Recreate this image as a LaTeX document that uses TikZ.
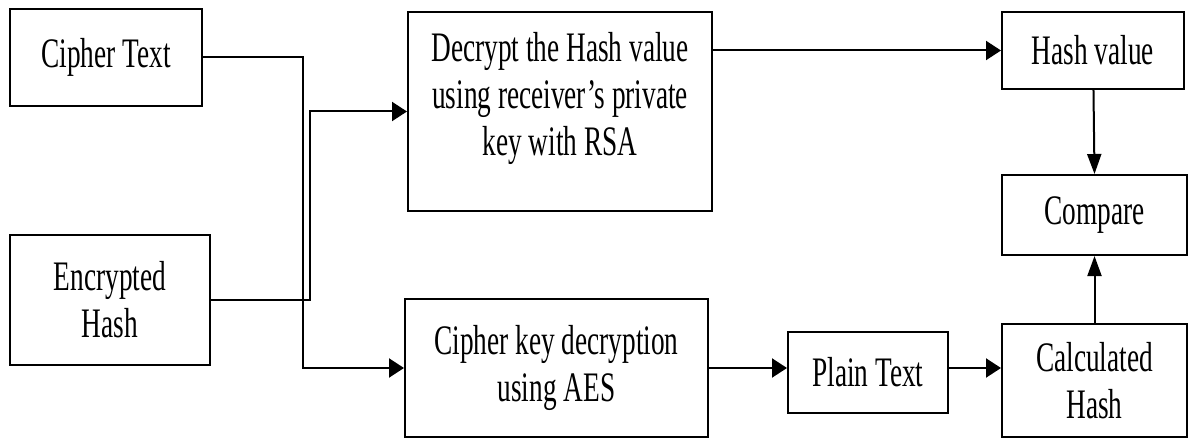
\documentclass[tikz,border=0pt]{standalone}
\usepackage{fontspec}
\setmainfont{Liberation Serif}[FakeStretch=0.65]
\usetikzlibrary{arrows.meta}
\begin{document}
\begin{tikzpicture}
  [x=1pt,y=-1pt,line width=2pt,
   every node/.style={draw,rectangle,align=center,inner sep=0pt,
     font=\fontsize{42}{47}\selectfont},
   harrow/.style={-{Triangle[length=15pt,width=19pt]}},
   varrow/.style={-{Triangle[length=20pt,width=14pt]}}]
\useasboundingbox (0,0) rectangle (1189,441);
\node (ct)[minimum width=192,minimum height=97] at (106,57.5) {Cipher Text};
  \node (eh)[minimum width=200,minimum height=130] at (110,300) {Encrypted\\Hash};
  \node (dh)[minimum width=304,minimum height=199] at (560,111.5) {Decrypt the Hash value\\using receiver’s private\\key with RSA\\[-12pt]};
  \node (ck)[minimum width=303,minimum height=138] at (556.5,368) {Cipher key decryption\\using AES};
  \node (pt)[minimum width=160,minimum height=81] at (868,372.5) {Plain Text};
  \node (hv)[minimum width=182,minimum height=77] at (1093,50.5) {Hash value};
  \node (cmp)[minimum width=185,minimum height=80] at (1094.5,215) {Compare};
  \node (ch)[minimum width=185,minimum height=113] at (1094.5,380.5) {Calculated\\Hash};
 \draw[harrow] (ct.east) -- ++(100,0) |- (ck.west);
 \draw[harrow] (eh.east) -- ++(99,0) |- (dh.west);
 \draw[harrow] (dh.east |- hv.west) -- (hv.west);
 \draw[harrow] (ck.east) -- (ck.east -| pt.west);
 \draw[harrow] (ck.east -| pt.east) -- (ck.east -| ch.west);
 \foreach \from/\to in {hv/cmp.north,ch/cmp.south}
    \draw[varrow] (\from) -- (\to);

\end{tikzpicture}
\end{document}
